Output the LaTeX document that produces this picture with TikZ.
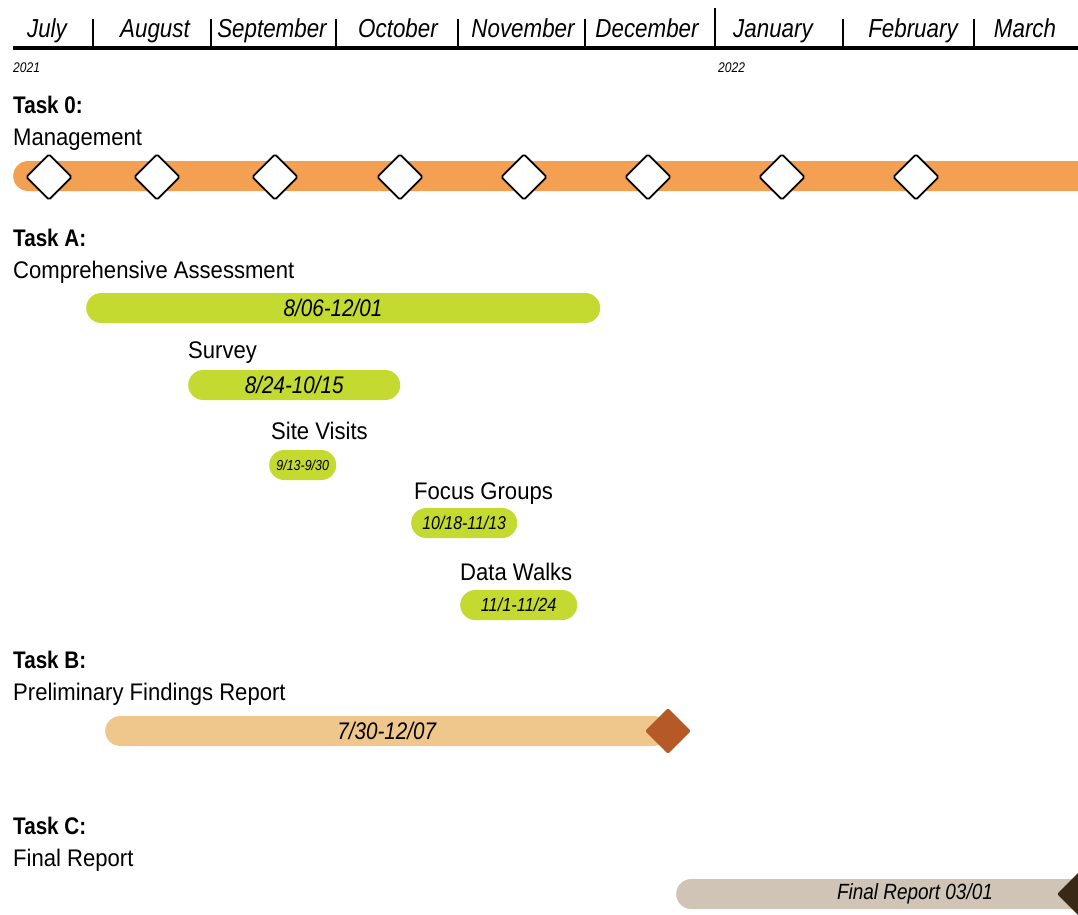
\documentclass[tikz,border=0pt]{standalone}
\usepackage{fontspec}
\setmainfont{Liberation Sans}[FakeStretch=0.86]
\newfontfamily\labfont{Liberation Sans}[FakeStretch=0.92]
\usetikzlibrary{shapes.geometric}
\definecolor{orangebar}{RGB}{244,160,82}
\definecolor{greenbar}{RGB}{197,218,48}
\definecolor{tanbar}{RGB}{239,198,140}
\definecolor{greybar}{RGB}{207,196,182}
\definecolor{rust}{RGB}{181,90,39}
\definecolor{darkbrown}{RGB}{58,40,22}
\tikzset{
  month/.style={font=\itshape\fontsize{26}{26}\selectfont, anchor=base, inner sep=0},
  year/.style={font=\itshape\fontsize{14}{14}\selectfont, anchor=base west, inner sep=0},
  sep/.style={line width=1.6},
  head/.style={font=\bfseries\fontsize{24}{24}\selectfont, anchor=base west, inner sep=0},
  lab/.style={font=\labfont\fontsize{24}{24}\selectfont, anchor=base west, inner sep=0},
  bar/.style={rounded corners=15, minimum height=30, inner sep=0, anchor=west, font=\itshape\fontsize{24}{24}\selectfont},
  gbar/.style={bar, fill=greenbar},
  wd/.style={diamond, draw=black, fill=white, line width=1.8, minimum width=46, minimum height=46, inner sep=0, rounded corners=1.5},
}
\begin{document}
\begin{tikzpicture}[x=1pt,y=-1pt]
\useasboundingbox (0,0) rectangle (1078,914);
% header
\node[month] (m1) at (47,37) {July};
\node[month] (m2) at (155,37) {August};
\node[month] (m3) at (272,37) {September};
\node[month] (m4) at (398,37) {October};
\node[month] (m5) at (523,37) {November};
\node[month] (m6) at (647,37) {December};
\node[month] (m7) at (773,37) {January};
\node[month] (m8) at (913,37) {February};
\node[month] (m9) at (1025,37) {March};
\draw[line width=3.5] (13,48) -- (1078,48);
\foreach \x in {93,211,336,458,585,843,974} \draw[sep] (\x,19) -- (\x,47);
\draw[sep] (715,8) -- (715,47);
\node[year] (y1) at (13,72) {2021};
\node[year] (y2) at (718,72) {2022};
% Task 0
\node[head] (t0) at (13,113) {Task 0:};
\node[lab] (t0l) at (13,145) {Management};
\node[bar, fill=orangebar, minimum width=1080] (b0) at (13,176) {};
\foreach \x [count=\i] in {49,157,275,400,524,648,782,916}
  \node[wd] (d\i) at (\x,177) {};
% Task A
\node[head] (ta) at (13,246) {Task A:};
\node[lab] (tal) at (13,278) {Comprehensive Assessment};
\node[gbar, minimum width=514] (ba) at (86,308) {};
\node[font=\itshape\fontsize{24}{24}\selectfont, inner sep=0] (bat) at (333,308) {8/06-12/01};
\node[lab] (sl) at (188,358) {Survey};
\node[gbar, minimum width=212] (bs) at (188,385) {8/24-10/15};
\node[lab] (vl) at (271,439) {Site Visits};
\node[gbar, minimum width=67, font=\itshape\fontsize{14.5}{14.5}\selectfont] (bv) at (269,465) {9/13-9/30};
\node[lab] (fl) at (414,499) {Focus Groups};
\node[gbar, minimum width=106, font=\itshape\fontsize{18.5}{18.5}\selectfont] (bf) at (411,523) {10/18-11/13};
\node[lab] (dl) at (460,580) {Data Walks};
\node[gbar, minimum width=117, font=\itshape\fontsize{19}{19}\selectfont] (bd) at (460,605) {11/1-11/24};
% Task B
\node[head] (tb) at (13,668) {Task B:};
\node[lab] (tbl) at (13,700) {Preliminary Findings Report};
\node[bar, fill=tanbar, minimum width=563] (bb) at (105,731) {7/30-12/07};
\node[diamond, fill=rust, minimum width=46, minimum height=46, inner sep=0, rounded corners=2] (db) at (668,731) {};
% Task C
\node[head] (tc) at (13,834) {Task C:};
\node[lab] (tcl) at (13,866) {Final Report};
\node[bar, fill=greybar, minimum width=420] (bc) at (676,894) {};
\node[font=\itshape\fontsize{22}{22}\selectfont, inner sep=0] (tcx) at (915,894) {Final Report 03/01};
\node[diamond, fill=darkbrown, minimum width=46, minimum height=46, inner sep=0, rounded corners=2] (dc) at (1080,894) {};
\end{tikzpicture}
\end{document}
